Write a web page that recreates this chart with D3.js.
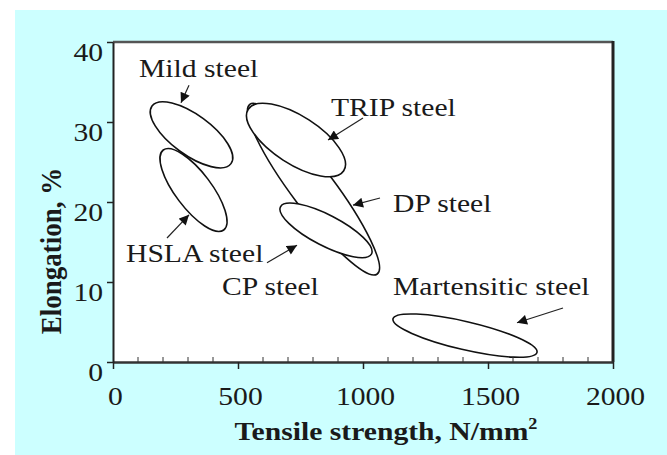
<!DOCTYPE html>
<html>
<head>
<meta charset="utf-8">
<script src="https://cdn.jsdelivr.net/npm/d3@7"></script>
<style>
  body { margin: 0; background: #fff; }
</style>
</head>
<body>
<script>
// steel grades, each region drawn as an ellipse along its major axis (data units)
var grades = ['DP steel', 'Mild steel', 'HSLA steel', 'TRIP steel', 'CP steel', 'Martensitic steel'];
var strength_a = [547, 156, 201, 541, 670, 1120];
var elong_a    = [32.2, 32.0, 26.5, 31.6, 19.4, 5.4];
var strength_b = [1057, 472, 443, 923, 1034, 1696];
var elong_b    = [11.0, 24.8, 16.5, 23.9, 13.5, 1.2];
var thickness  = [0.20, 0.41, 0.36, 0.42, 0.30, 0.19];   // minor / major axis

// labels and arrows (data units)
var label_x = [1120, 104, 52, 872, 436, 1120];
var label_y = [18.75, 35.6, 12.5, 30.75, 8.4, 8.4];
var arrow_from = [[1068, 20.5], [304, 34.6], [216, 15.5], [1000, 30.5], [616, 12.4], [1800, 6.75]];
var arrow_to   = [[960, 19.6], [272, 32.4], [304, 18.4], [860, 27.75], [736, 14.6], [1616, 4.9]];

var x_ticks = [0, 500, 1000, 1500, 2000];
var y_ticks = [0, 10, 20, 30, 40];

var W = 667, H = 455;
var stretch = 1.14;
var serif = 'Liberation Serif';

var svg = d3.select('body')
  .append('svg')
  .attr('width', W)
  .attr('height', H)
  .attr('font-family', serif);

svg.append('rect')
  .attr('x', 15)
  .attr('y', 10)
  .attr('width', W - 15)
  .attr('height', H - 10)
  .attr('fill', '#ccffff');

var x = d3.scaleLinear().domain([0, 2000]).range([113, 613]);
var y = d3.scaleLinear().domain([0, 40]).range([362, 42]);

svg.append('rect')
  .attr('x', x(0))
  .attr('y', y(40))
  .attr('width', x(2000) - x(0))
  .attr('height', y(0) - y(40))
  .attr('fill', '#fff');

svg.append('defs')
  .append('marker')
  .attr('id', 'head')
  .attr('markerUnits', 'userSpaceOnUse')
  .attr('viewBox', '0 0 10 10')
  .attr('refX', 10)
  .attr('refY', 5)
  .attr('markerWidth', 11)
  .attr('markerHeight', 10)
  .attr('orient', 'auto')
  .append('path')
  .attr('d', 'M0,0 L10,5 L0,10 Z')
  .attr('fill', '#111');

// ellipses
var regions = grades.map(function(g, i) {
  var x1 = x(strength_a[i]), y1 = y(elong_a[i]);
  var x2 = x(strength_b[i]), y2 = y(elong_b[i]);
  var a = Math.hypot(x2 - x1, y2 - y1) / 2;
  return {
    name: g,
    cx: (x1 + x2) / 2,
    cy: (y1 + y2) / 2,
    rx: a,
    ry: a * thickness[i],
    angle: Math.atan2(y2 - y1, x2 - x1) * 180 / Math.PI
  };
});

svg.append('g')
  .selectAll('ellipse')
  .data(regions)
  .join('ellipse')
  .attr('cx', d => d.cx)
  .attr('cy', d => d.cy)
  .attr('rx', d => d.rx)
  .attr('ry', d => d.ry)
  .attr('transform', d => 'rotate(' + d.angle + ',' + d.cx + ',' + d.cy + ')')
  .attr('fill', d => d.name == 'DP steel' ? 'none' : '#fff')
  .attr('stroke', '#111')
  .attr('stroke-width', 1.6);

// arrows
svg.append('g')
  .selectAll('line')
  .data(grades)
  .join('line')
  .attr('x1', (d, i) => x(arrow_from[i][0]))
  .attr('y1', (d, i) => y(arrow_from[i][1]))
  .attr('x2', (d, i) => x(arrow_to[i][0]))
  .attr('y2', (d, i) => y(arrow_to[i][1]))
  .attr('stroke', '#222')
  .attr('stroke-width', 1.2)
  .attr('marker-end', 'url(#head)');

// labels
svg.append('g')
  .selectAll('text')
  .data(grades)
  .join('text')
  .attr('transform', (d, i) => 'translate(' + x(label_x[i]) + ',' + y(label_y[i]) + ') scale(' + stretch + ',1)')
  .attr('font-family', serif)
  .attr('font-size', 26)
  .attr('fill', '#1a1a1a')
  .text(d => d);

// frame
var frame = svg.append('g')
  .attr('fill', 'none');
frame.append('line')
  .attr('x1', x(0)).attr('x2', x(2000))
  .attr('y1', y(40)).attr('y2', y(40))
  .attr('stroke-width', 2.5)
  .attr('stroke', '#555');
frame.append('line')
  .attr('x1', x(2000)).attr('x2', x(2000))
  .attr('y1', y(40) - 1).attr('y2', y(0))
  .attr('stroke-width', 3)
  .attr('stroke', '#222');

// x axis
var x_axis = svg.append('g')
  .attr('transform', 'translate(0,' + y(0) + ')')
  .call(d3.axisBottom(x).tickValues(x_ticks).tickFormat(d3.format('d')).tickSize(7).tickSizeOuter(0));
x_axis.attr('font-family', serif);
x_axis.select('.domain').attr('stroke-width', 2.5).attr('stroke', '#333');
x_axis.selectAll('.tick line').attr('stroke-width', 1.5).attr('stroke', '#222');
x_axis.selectAll('.tick text')
  .attr('y', 0)
  .attr('dy', 0)
  .attr('transform', 'translate(2,43) scale(' + stretch + ',1)')
  .attr('font-family', serif)
  .attr('font-size', 26)
  .attr('fill', '#1a1a1a');

svg.append('g')
  .selectAll('line')
  .data(d3.range(100, 2000, 100).filter(v => v % 500 != 0))
  .join('line')
  .attr('x1', d => x(d)).attr('x2', d => x(d))
  .attr('y1', y(0)).attr('y2', y(0) - 5)
  .attr('stroke', '#333')
  .attr('stroke-width', 1);

// y axis
var y_axis = svg.append('g')
  .attr('transform', 'translate(' + x(0) + ',0)')
  .call(d3.axisLeft(y).tickValues(y_ticks).tickFormat(d3.format('d')).tickSize(6).tickSizeOuter(0));
y_axis.attr('font-family', serif);
y_axis.select('.domain').attr('stroke-width', 2).attr('stroke', '#222');
y_axis.selectAll('.tick line').attr('stroke-width', 1.5).attr('stroke', '#222');
y_axis.selectAll('.tick text')
  .attr('x', 0)
  .attr('dy', 0)
  .attr('transform', 'translate(-10,18) scale(' + stretch + ',1)')
  .attr('font-family', serif)
  .attr('font-size', 26)
  .attr('fill', '#1a1a1a');

// axis titles
var xt = svg.append('text')
  .attr('transform', 'translate(386,440) scale(' + stretch + ',1)')
  .attr('text-anchor', 'middle')
  .attr('font-family', serif)
  .attr('font-size', 26)
  .attr('font-weight', 'bold')
  .attr('fill', '#1a1a1a');
xt.append('tspan').text('Tensile strength, N/mm');
xt.append('tspan').attr('dy', -11).attr('font-size', 16).text('2');

svg.append('text')
  .attr('transform', 'translate(61,251) rotate(-90) scale(1,1.1)')
  .attr('text-anchor', 'middle')
  .attr('font-family', serif)
  .attr('font-size', 27)
  .attr('font-weight', 'bold')
  .attr('fill', '#1a1a1a')
  .text('Elongation, %');
</script>
</body>
</html>
